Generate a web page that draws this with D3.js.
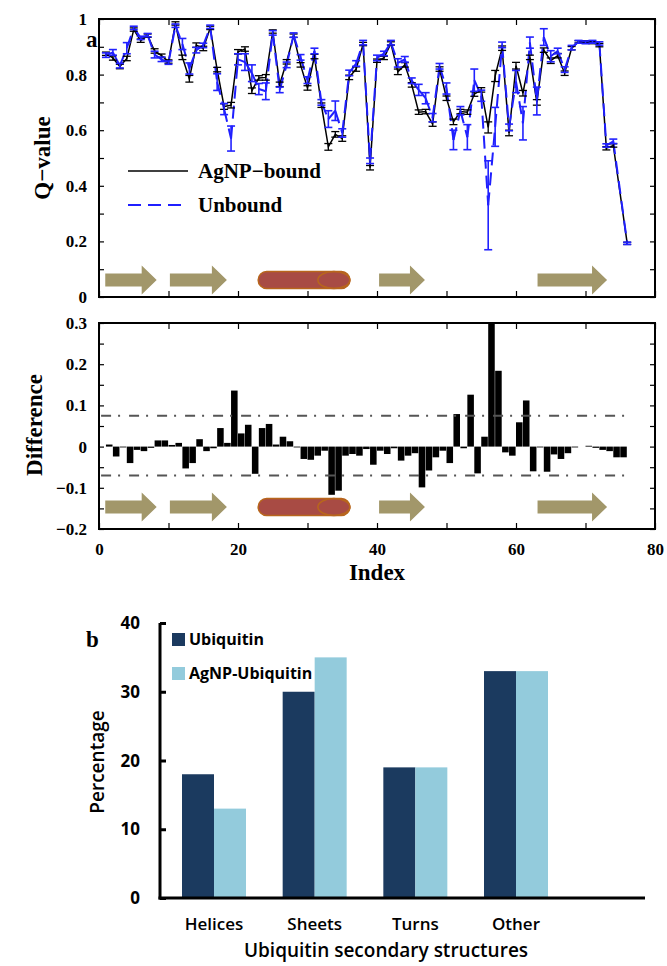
<!DOCTYPE html>
<html>
<head>
<meta charset="utf-8">
<script src="https://cdn.jsdelivr.net/npm/d3@7"></script>
<style>
  body { margin: 0; background: #fff; }
</style>
</head>
<body>
<svg id="fig" width="667" height="966"></svg>
<script>
// ---- data (index 1..76; null = no point) ----
const qBound = [0.875,0.860,0.829,0.858,0.962,0.922,0.940,0.885,0.868,0.847,
  0.984,0.862,0.785,0.906,0.894,0.968,0.818,0.685,0.690,0.882,
  0.892,0.742,0.788,0.790,0.955,0.765,0.846,0.940,0.835,0.752,
  0.865,0.690,0.540,0.585,0.570,0.790,0.820,0.910,0.465,0.850,
  0.860,0.912,0.810,0.835,0.763,0.665,0.667,0.622,0.820,0.715,
  0.630,0.667,0.665,0.730,0.745,0.610,0.795,0.895,0.590,0.832,
  0.733,0.862,0.700,0.888,0.850,0.868,0.805,0.895,0.918,0.918,
  0.915,0.906,0.535,0.545,null,0.193];
const qUnbound = [0.870,0.880,0.832,0.895,0.968,0.932,0.942,0.872,0.855,0.843,
  0.976,0.910,0.822,0.888,0.905,0.972,0.773,0.676,0.570,0.855,
  0.845,0.805,0.748,0.740,0.950,0.745,0.835,0.942,0.862,0.780,
  0.885,0.700,0.640,0.670,0.590,0.806,0.840,0.915,0.490,0.860,
  0.876,0.915,0.842,0.855,0.778,0.745,0.715,0.645,0.830,0.750,
  0.565,0.670,0.575,0.780,0.724,0.330,0.612,0.907,0.610,0.775,
  0.625,0.915,0.705,0.935,0.866,0.885,0.818,0.897,0.918,0.916,
  0.918,0.912,0.545,0.560,null,0.193];
const errBound = [0.006,0.008,0.008,0.008,0.006,0.006,0.006,0.008,0.006,0.006,
  0.006,0.008,0.012,0.008,0.008,0.006,0.008,0.010,0.010,0.008,
  0.008,0.010,0.008,0.010,0.006,0.008,0.008,0.006,0.008,0.008,
  0.008,0.008,0.012,0.010,0.010,0.008,0.008,0.006,0.008,0.006,
  0.006,0.006,0.010,0.008,0.008,0.008,0.008,0.008,0.008,0.008,
  0.010,0.008,0.008,0.008,0.008,0.020,0.020,0.008,0.010,0.012,
  0.010,0.008,0.010,0.008,0.010,0.008,0.008,0.006,0.004,0.004,
  0.004,0.006,0.006,0.006,null,0.004];
const errUnbound = [0.008,0.010,0.008,0.020,0.006,0.006,0.006,0.012,0.008,0.006,
  0.006,0.020,0.020,0.010,0.008,0.006,0.030,0.020,0.045,0.020,
  0.030,0.030,0.020,0.030,0.008,0.010,0.010,0.008,0.010,0.012,
  0.010,0.010,0.030,0.035,0.015,0.010,0.010,0.008,0.010,0.010,
  0.008,0.008,0.015,0.010,0.010,0.020,0.020,0.015,0.010,0.020,
  0.035,0.015,0.045,0.040,0.020,0.160,0.070,0.010,0.012,0.040,
  0.060,0.020,0.050,0.030,0.020,0.010,0.010,0.008,0.005,0.005,
  0.005,0.006,0.006,0.008,null,0.004];
// difference (bound - unbound), index 1..75
const qDiff = [0.005,-0.024,-0.002,-0.040,-0.008,-0.011,-0.003,0.015,0.015,0.004,
  0.009,-0.053,-0.040,0.018,-0.011,-0.004,0.045,0.009,0.136,0.032,
  0.053,-0.066,0.045,0.055,0.005,0.024,0.013,-0.002,-0.030,-0.032,
  -0.022,-0.010,-0.117,-0.107,-0.022,-0.018,-0.022,-0.006,-0.044,-0.010,
  -0.018,-0.004,-0.034,-0.022,-0.016,-0.099,-0.058,-0.026,-0.010,-0.040,
  0.079,-0.004,0.126,-0.065,0.024,0.320,0.184,-0.014,-0.022,0.059,
  0.112,-0.060,-0.002,-0.061,-0.019,-0.030,-0.016,-0.002,0.000,0.002,
  -0.003,-0.008,-0.011,-0.026,-0.026];
const diffLimits = [0.075, -0.070];
// secondary structure spans (residue index)
const strands = [[0.9, 8.3], [10.2, 18.4], [40.3, 46.9], [63.1, 73.1]];
const helices = [[22.9, 36.1]];
// panel b
const structTypes = ["Helices", "Sheets", "Turns", "Other"];
const seriesNames = ["Ubiquitin", "AgNP-Ubiquitin"];
const pctUbiquitin = [18, 30, 19, 33];
const pctAgNP = [13, 35, 19, 33];

const svg = d3.select("#fig");
const serif = "'Liberation Serif', 'DejaVu Serif', serif";
const sans = "'Open Sans', 'Lato', sans-serif";

const x = d3.scaleLinear().domain([0, 80]).range([99, 655]);
const yQ = d3.scaleLinear().domain([0, 1]).range([297, 19]);
const yD = d3.scaleLinear().domain([-0.2, 0.3]).range([529, 323]);

function toPoints(vals, errs) {
  return vals.map((v, i) => ({i: i + 1, v: v, e: errs[i]})).filter(d => d.v !== null);
}
const ptsBound = toPoints(qBound, errBound);
const ptsUnbound = toPoints(qUnbound, errUnbound);

function styleTicks(g, size) {
  g.select(".domain").remove();
  g.selectAll("line").attr("stroke", "#000").attr("stroke-width", 1.2);
  g.selectAll("text").attr("font-family", serif).attr("font-weight", "bold")
    .attr("font-size", size).attr("fill", "#000");
}

function panelAxes(y, step, labelStep, showX) {
  const [y0, y1] = y.range();
  const yTicks = d3.range(y.domain()[0], y.domain()[1] + 1e-9, step);
  const fmt = d => {
    const r = Math.round(d / labelStep * 1000) / 1000;
    if (Math.abs(r - Math.round(r)) > 1e-6) return "";
    const s = Math.abs(d) < 1e-9 ? "0" : d3.format("~g")(+d.toFixed(2));
    return s.replace("-", "\u2212");
  };
  svg.append("g").attr("transform", `translate(${x(0)},0)`)
    .call(d3.axisLeft(y).tickValues(yTicks).tickSize(-5).tickPadding(12).tickFormat(fmt))
    .call(g => styleTicks(g, 17));
  svg.append("g").attr("transform", `translate(${x(80)},0)`)
    .call(d3.axisRight(y).tickValues(yTicks).tickSize(-5).tickFormat(""))
    .call(g => styleTicks(g, 17));
  const xt = d3.range(0, 81, 10);
  svg.append("g").attr("transform", `translate(0,${y1})`)
    .call(d3.axisTop(x).tickValues(xt).tickSize(-6).tickFormat(""))
    .call(g => styleTicks(g, 17));
  svg.append("g").attr("transform", `translate(0,${y0})`)
    .call(d3.axisBottom(x).tickValues(xt).tickSize(-6).tickPadding(14)
      .tickFormat(d => showX && d % 20 === 0 ? d : ""))
    .call(g => styleTicks(g, 17));
  svg.append("rect").attr("x", x(0)).attr("y", y1)
    .attr("width", x(80) - x(0)).attr("height", y0 - y1)
    .attr("fill", "none").attr("stroke", "#000").attr("stroke-width", 2);
}

function drawStructures(yc) {
  const g = svg.append("g");
  strands.forEach(([a, b]) => {
    const x0 = x(a), x1 = x(b), hl = 15;
    g.append("path")
      .attr("d", `M${x0},${yc - 6.5}L${x1 - hl},${yc - 6.5}L${x1 - hl},${yc - 14.5}L${x1},${yc}` +
        `L${x1 - hl},${yc + 14.5}L${x1 - hl},${yc + 6.5}L${x0},${yc + 6.5}Z`)
      .attr("fill", "#a2976a");
  });
  helices.forEach(([a, b]) => {
    const x0 = x(a), x1 = x(b), h = 17;
    g.append("rect").attr("x", x0).attr("y", yc - h / 2)
      .attr("width", x1 - x0).attr("height", h).attr("rx", h / 2)
      .attr("fill", "#a84b44").attr("stroke", "#b8661c").attr("stroke-width", 1.5);
    g.append("ellipse").attr("cx", x1 - 16).attr("cy", yc).attr("rx", 16).attr("ry", h / 2)
      .attr("fill", "none").attr("stroke", "#b8661c").attr("stroke-width", 1.5);
  });
}

function errorBars(pts, color, width) {
  const g = svg.append("g").attr("stroke", color).attr("stroke-width", width).attr("fill", "none");
  pts.forEach(d => {
    const xc = x(d.i), lo = yQ(d.v - d.e), hi = yQ(d.v + d.e);
    g.append("line").attr("x1", xc).attr("x2", xc).attr("y1", lo).attr("y2", hi);
    g.append("line").attr("x1", xc - 4).attr("x2", xc + 4).attr("y1", lo).attr("y2", lo);
    g.append("line").attr("x1", xc - 4).attr("x2", xc + 4).attr("y1", hi).attr("y2", hi);
  });
}

// ---------- panel a: Q-value ----------
drawStructures(280);

const line = d3.line().x(d => x(d.i)).y(d => yQ(d.v));
svg.append("path").datum(ptsBound).attr("d", line)
  .attr("fill", "none").attr("stroke", "#000").attr("stroke-width", 1.5);
// dashed unbound line, dash restarting at each vertex
const blueG = svg.append("g");
d3.pairs(ptsUnbound).forEach(([a, b]) => {
  blueG.append("path").datum([a, b]).attr("d", line)
    .attr("fill", "none").attr("stroke", "#1f1fff").attr("stroke-width", 2)
    .attr("stroke-dasharray", "13,7");
});
errorBars(ptsBound, "#000", 1.3);
errorBars(ptsUnbound, "#2222ff", 1.6);

panelAxes(yQ, 0.1, 0.2, false);

// legend
const lg = svg.append("g").attr("font-family", serif).attr("font-weight", "bold").attr("font-size", 21);
lg.append("line").attr("x1", 128).attr("x2", 188).attr("y1", 171).attr("y2", 171)
  .attr("stroke", "#000").attr("stroke-width", 1.5);
lg.append("text").attr("x", 198).attr("y", 178).text("AgNP\u2212bound");
lg.append("line").attr("x1", 128).attr("x2", 188).attr("y1", 205).attr("y2", 205)
  .attr("stroke", "#1f1fff").attr("stroke-width", 2).attr("stroke-dasharray", "13,7");
lg.append("text").attr("x", 198).attr("y", 212).text("Unbound");

svg.append("text").attr("transform", "translate(50,158) rotate(-90)")
  .attr("text-anchor", "middle").attr("font-family", serif).attr("font-weight", "bold")
  .attr("font-size", 23).text("Q\u2212value");
svg.append("text").attr("x", 86).attr("y", 47).attr("font-family", serif)
  .attr("font-weight", "bold").attr("font-size", 23).text("a");

// ---------- difference panel ----------
svg.append("defs").append("clipPath").attr("id", "clipD").append("rect")
  .attr("x", x(0)).attr("y", yD(0.3)).attr("width", x(80) - x(0)).attr("height", yD(-0.2) - yD(0.3));

drawStructures(507);

svg.append("g").attr("clip-path", "url(#clipD)")
  .selectAll("rect").data(qDiff).join("rect")
  .attr("x", (d, i) => x(i + 1))
  .attr("width", x(2) - x(1) - 0.4)
  .attr("y", d => yD(Math.max(0, d)))
  .attr("height", d => Math.abs(yD(d) - yD(0)))
  .attr("fill", "#000");

svg.append("g").selectAll("line").data(diffLimits).join("line")
  .attr("x1", x(0.3)).attr("x2", x(76)).attr("y1", d => yD(d)).attr("y2", d => yD(d))
  .attr("stroke", "#555").attr("stroke-width", 2).attr("stroke-dasharray", "10,7,2,9");

panelAxes(yD, 0.05, 0.1, true);

svg.append("text").attr("transform", "translate(42,425) rotate(-90)")
  .attr("text-anchor", "middle").attr("font-family", serif).attr("font-weight", "bold")
  .attr("font-size", 23).text("Difference");
svg.append("text").attr("x", 377).attr("y", 580).attr("text-anchor", "middle")
  .attr("font-family", serif).attr("font-weight", "bold").attr("font-size", 23).text("Index");

// ---------- panel b: bar chart ----------
const yP = d3.scaleLinear().domain([0, 40]).range([898, 623]);
const xG = d3.scalePoint().domain(structTypes).range([214, 516]);
const xS = d3.scaleBand().domain(seriesNames).range([-32, 32]);
const barColors = {"Ubiquitin": "#1b3a5f", "AgNP-Ubiquitin": "#93cbdc"};
const barData = [];
structTypes.forEach((t, i) => {
  barData.push({t: t, s: seriesNames[0], v: pctUbiquitin[i]});
  barData.push({t: t, s: seriesNames[1], v: pctAgNP[i]});
});
svg.append("g").selectAll("rect").data(barData).join("rect")
  .attr("x", d => xG(d.t) + xS(d.s))
  .attr("width", xS.bandwidth())
  .attr("y", d => yP(d.v))
  .attr("height", d => yP(0) - yP(d.v))
  .attr("fill", d => barColors[d.s]);

const yAx = svg.append("g").attr("transform", "translate(160,0)")
  .call(d3.axisRight(yP).tickValues([0, 10, 20, 30, 40]).tickSize(6).tickFormat(""));
yAx.select(".domain").remove();
yAx.selectAll("line").attr("stroke", "#000").attr("stroke-width", 3);
svg.append("g").selectAll("text").data([0, 10, 20, 30, 40]).join("text")
  .attr("x", 140).attr("y", d => yP(d) + 6).attr("text-anchor", "end")
  .attr("font-family", sans).attr("font-weight", "bold").attr("font-size", 17).text(d => d);
svg.append("line").attr("x1", 160).attr("x2", 160).attr("y1", yP(40)).attr("y2", yP(0) + 1.5)
  .attr("stroke", "#000").attr("stroke-width", 3);
svg.append("line").attr("x1", 158.5).attr("x2", 645).attr("y1", yP(0)).attr("y2", yP(0))
  .attr("stroke", "#000").attr("stroke-width", 3);

svg.append("g").selectAll("text").data(structTypes).join("text")
  .attr("x", d => xG(d)).attr("y", 930).attr("text-anchor", "middle")
  .attr("font-family", sans).attr("font-weight", 600).attr("font-size", 17).text(d => d);
svg.append("text").attr("x", 386).attr("y", 957).attr("text-anchor", "middle")
  .attr("font-family", sans).attr("font-weight", 600).attr("font-size", 19)
  .text("Ubiquitin secondary structures");
svg.append("text").attr("transform", "translate(104,762) rotate(-90)")
  .attr("text-anchor", "middle").attr("font-family", sans).attr("font-weight", 600)
  .attr("font-size", 19).text("Percentage");

const bl = svg.append("g").attr("font-family", sans).attr("font-weight", "bold").attr("font-size", 16);
seriesNames.forEach((s, i) => {
  bl.append("rect").attr("x", 172).attr("y", 633 + i * 34).attr("width", 13).attr("height", 13)
    .attr("fill", barColors[s]);
  bl.append("text").attr("x", 189).attr("y", 645 + i * 34).text(s);
});
svg.append("text").attr("x", 86).attr("y", 647).attr("font-family", serif)
  .attr("font-weight", "bold").attr("font-size", 23).text("b");
</script>
</body>
</html>
